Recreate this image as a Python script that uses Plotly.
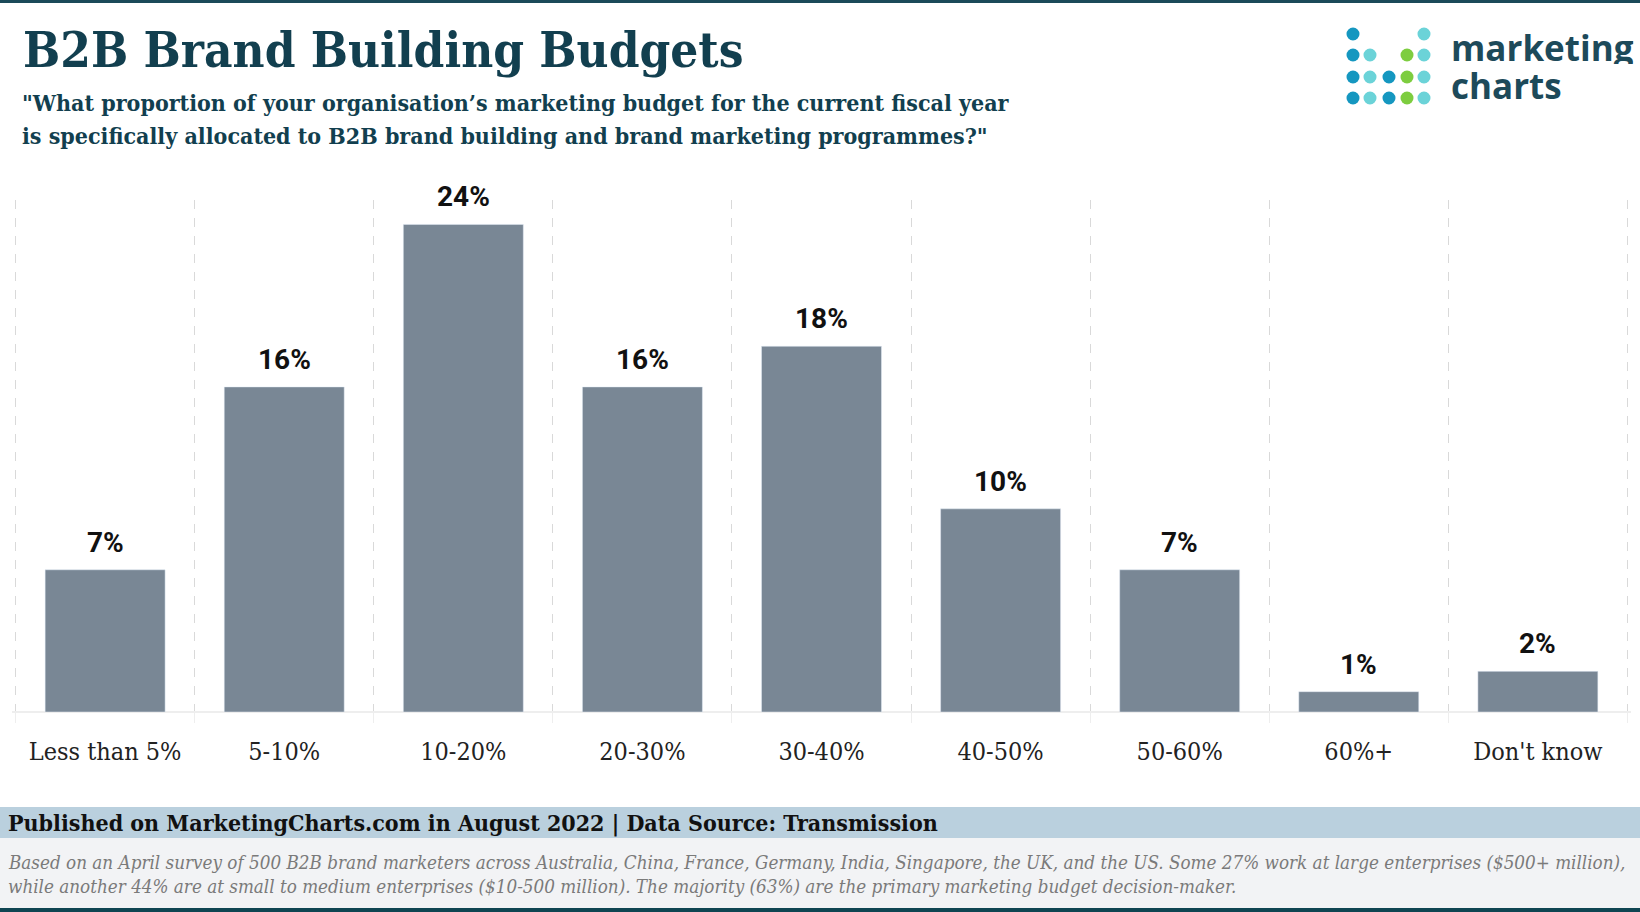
import plotly.graph_objects as go

categories = ["Less than 5%", "5-10%", "10-20%", "20-30%", "30-40%", "40-50%", "50-60%", "60%+", "Don't know"]
values = [7, 16, 24, 16, 18, 10, 7, 1, 2]
value_labels = ["7%", "16%", "24%", "16%", "18%", "10%", "7%", "1%", "2%"]

title = "B2B Brand Building Budgets"
subtitle_lines = [
    "\"What proportion of your organisation\u2019s marketing budget for the current fiscal year",
    "is specifically allocated to B2B brand building and brand marketing programmes?\"",
]
source = "Published on MarketingCharts.com in August 2022 | Data Source: Transmission"
note_lines = [
    "Based on an April survey of 500 B2B brand marketers across Australia, China, France, Germany, India, Singapore, the UK, and the US. Some 27% work at large enterprises ($500+ million),",
    "while another 44% are at small to medium enterprises ($10-500 million). The majority (63%) are the primary marketing budget decision-maker.",
]

W, H = 1640, 912
L, R, T, B = 12, 9, 200, 200
PW = W - L - R
PH = H - T - B


def px(x):
    return (x - L) / PW


def py(y):
    return (H - B - y) / PH


SLAB = "DejaVu Serif Condensed, DejaVu Serif, serif"
DARK = "#123f4f"

fig = go.Figure()
fig.add_trace(go.Bar(
    x=categories, y=values, marker_color="#798795", width=0.67,
    hoverinfo="skip",
))

annotations = []
for c, v, t in zip(categories, values, value_labels):
    annotations.append(dict(x=c, y=v, xref="x", yref="y", text="<b>" + t + "</b>",
                            showarrow=False, yanchor="bottom", yshift=9,
                            font=dict(family="Roboto, sans-serif", size=28, color="#111111")))

annotations.append(dict(x=px(21), y=py(50), xref="paper", yref="paper", text="<b>" + title + "</b>",
                        showarrow=False, xanchor="left", yanchor="middle",
                        font=dict(family=SLAB, size=49, color=DARK)))
for i, line in enumerate(subtitle_lines):
    annotations.append(dict(x=px(20), y=py(102 + 33 * i), xref="paper", yref="paper", text="<b>" + line + "</b>",
                            showarrow=False, xanchor="left", yanchor="middle",
                            font=dict(family=SLAB, size=23, color=DARK)))
annotations.append(dict(x=px(1449), y=py(47), xref="paper", yref="paper", text="<b>marketing</b>",
                        showarrow=False, xanchor="left", yanchor="middle", height=34, valign="middle",
                        font=dict(family="Open Sans, sans-serif", size=35, color="#1d4a5a")))
annotations.append(dict(x=px(1449), y=py(85), xref="paper", yref="paper", text="<b>charts</b>",
                        showarrow=False, xanchor="left", yanchor="middle", height=34, valign="middle",
                        font=dict(family="Open Sans, sans-serif", size=35, color="#1d4a5a")))
annotations.append(dict(x=px(6), y=py(823), xref="paper", yref="paper", text="<b>" + source + "</b>",
                        showarrow=False, xanchor="left", yanchor="middle",
                        font=dict(family=SLAB, size=23, color="#111111")))
for i, line in enumerate(note_lines):
    annotations.append(dict(x=px(6), y=py(862 + 24 * i), xref="paper", yref="paper", text="<i>" + line + "</i>",
                            showarrow=False, xanchor="left", yanchor="middle",
                            font=dict(family=SLAB, size=18.7, color="#7a7a7a")))

shapes = [
    dict(type="rect", xref="paper", yref="paper", x0=px(0), x1=px(W), y0=py(0), y1=py(3),
         fillcolor="#1b4a59", line_width=0, layer="above"),
    dict(type="rect", xref="paper", yref="paper", x0=px(0), x1=px(W), y0=py(807), y1=py(838),
         fillcolor="#bad0de", line_width=0),
    dict(type="rect", xref="paper", yref="paper", x0=px(0), x1=px(W), y0=py(838), y1=py(908),
         fillcolor="#f2f3f5", line_width=0),
    dict(type="rect", xref="paper", yref="paper", x0=px(0), x1=px(W), y0=py(908), y1=py(H),
         fillcolor="#0f4552", line_width=0),
]

BLUE, CYAN, GREEN = "#1597c0", "#6bd3d8", "#7dcd3f"
logo_cols = [1353, 1370, 1389, 1407, 1424]
logo_rows = [34, 55, 77, 98]
logo = [
    [BLUE, None, None, None, CYAN],
    [BLUE, CYAN, None, GREEN, CYAN],
    [BLUE, CYAN, BLUE, GREEN, CYAN],
    [BLUE, CYAN, BLUE, GREEN, CYAN],
]
for r, row in enumerate(logo):
    for c, col in enumerate(row):
        if col is None:
            continue
        shapes.append(dict(type="circle", xref="paper", yref="paper",
                           xsizemode="pixel", ysizemode="pixel",
                           xanchor=px(logo_cols[c]), yanchor=py(logo_rows[r]),
                           x0=-6.5, x1=6.5, y0=-6.5, y1=6.5, fillcolor=col, line_width=0))

fig.update_layout(
    width=W, height=H,
    margin=dict(l=L, r=R, t=T, b=B),
    paper_bgcolor="white", plot_bgcolor="white",
    showlegend=False,
    annotations=annotations,
    shapes=shapes,
    xaxis=dict(
        type="category", tickson="boundaries", showgrid=True, gridcolor="#d9d9d9",
        griddash="dash", gridwidth=1, ticks="outside", ticklen=10, tickcolor="#eeeeee",
        showline=False,
        tickfont=dict(family=SLAB, size=25, color="#222222"),
        ticklabelstandoff=22,
        range=[-0.52, 8.52],
    ),
    yaxis=dict(range=[0, 25.2], showgrid=False, zeroline=True, zerolinecolor="#eeeeee",
               zerolinewidth=2, showticklabels=False),
    bargap=0.33,
)

fig.write_html("out.html", config={"displayModeBar": False},
               post_script="document.body.style.margin='0px';")
